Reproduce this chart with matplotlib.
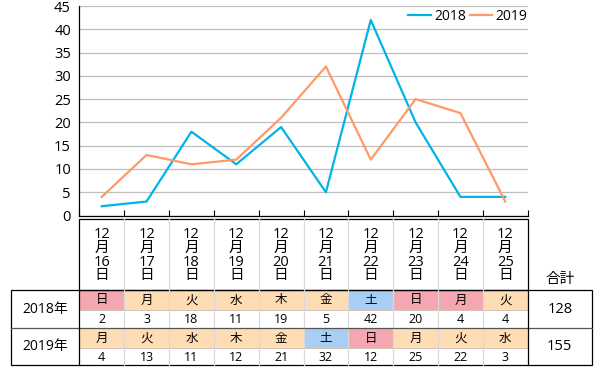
import numpy as np
import matplotlib.pyplot as plt
from matplotlib.patches import Rectangle

plt.rcParams['font.family'] = ['Open Sans', 'Noto Sans CJK JP', 'DejaVu Sans']

# data
days = ['16', '17', '18', '19', '20', '21', '22', '23', '24', '25']
values_2018 = [2, 3, 18, 11, 19, 5, 42, 20, 4, 4]
values_2019 = [4, 13, 11, 12, 21, 32, 12, 25, 22, 3]
weekdays_2018 = ['日', '月', '火', '水', '木', '金', '土', '日', '月', '火']
weekdays_2019 = ['月', '火', '水', '木', '金', '土', '日', '月', '火', '水']
holidays_2018 = [7, 8]   # 12/23 天皇誕生日, 12/24 振替休日
holidays_2019 = []
years = ['2018年', '2019年']

BLUE = '#00B4E6'
ORANGE = '#FF9966'
SUN = '#F4A7B1'
SAT = '#A9CEF4'
WEEK = '#FFDDB4'

fig = plt.figure(figsize=(6, 3.7), dpi=100)

# ---- line chart ----
W, H = 600, 370
ax_l, ax_r, ax_b, ax_t = 79.3, 527.7, 215.5, 6
ax = fig.add_axes([ax_l / W, 1 - ax_b / H, (ax_r - ax_l) / W, (ax_b - ax_t) / H])
x = np.arange(len(days))
ax.plot(x, values_2018, color=BLUE, lw=1.6, label='2018')
ax.plot(x, values_2019, color=ORANGE, lw=1.6, label='2019')
ax.set_xlim(-0.5, len(days) - 0.5)
ax.set_ylim(0, 45)
ax.set_yticks(range(0, 46, 5))
ax.yaxis.grid(True, color='#bfbfbf', lw=0.9)
ax.set_axisbelow(True)
ax.set_xticks(np.arange(len(days) + 1) - 0.5)
ax.set_xticklabels([])
ax.tick_params(axis='x', direction='in', length=4, width=0.8, color='black')
ax.tick_params(axis='y', length=0, pad=6, labelsize=10.5)
for s in ['top', 'right']:
    ax.spines[s].set_visible(False)
for s in ['left', 'bottom']:
    ax.spines[s].set_color('black')
    ax.spines[s].set_linewidth(0.9)
ax.legend(ncol=2, loc='center right', bbox_to_anchor=(1.0, 0.952), frameon=False,
          handlelength=1.6, handletextpad=0.25, columnspacing=0.3,
          borderaxespad=0, borderpad=0, fontsize=10)

# ---- table ----
tb = fig.add_axes([0, 0, 1, 1])
tb.set_xlim(0, W)
tb.set_ylim(H, 0)
tb.axis('off')

col_w = (ax_r - ax_l) / len(days)
lab_l, tot_r = 10.5, 592
hdr_t, hdr_b = 219.3, 290
rows_y = [290, 310, 328.3, 348.3, 365]


def day_color(wd, i, hol):
    if wd == '日' or i in hol:
        return SUN
    if wd == '土':
        return SAT
    return WEEK


for r, (wds, vals, hol) in enumerate([(weekdays_2018, values_2018, holidays_2018),
                                      (weekdays_2019, values_2019, holidays_2019)]):
    y0, y1, y2 = rows_y[2 * r], rows_y[2 * r + 1], rows_y[2 * r + 2]
    for i in range(len(days)):
        cx = ax_l + (i + 0.5) * col_w
        tb.add_patch(Rectangle((ax_l + i * col_w, y0), col_w, y1 - y0,
                               facecolor=day_color(wds[i], i, hol), edgecolor='none'))
        tb.text(cx, (y0 + y1) / 2, wds[i], ha='center', va='center', fontsize=9)
        tb.text(cx, (y1 + y2) / 2 + 0.5, str(vals[i]), ha='center', va='center', fontsize=9)
    tb.plot([ax_l, ax_r], [y1, y1], color='#c9b9a9', lw=0.6)
    tb.text((lab_l + ax_l) / 2, (y0 + y2) / 2, years[r], ha='center', va='center', fontsize=10)
    tb.text((ax_r + tot_r) / 2, (y0 + y2) / 2, str(sum(vals)), ha='center', va='center', fontsize=10.5)

# date header
for i, d in enumerate(days):
    cx = ax_l + (i + 0.5) * col_w
    tb.text(cx, (hdr_t + hdr_b) / 2 + 0.5, '12\n月\n' + d + '\n日', ha='center', va='center',
            fontsize=10.5, linespacing=0.9)
tb.text((ax_r + tot_r) / 2, 279, '合計', ha='center', va='center', fontsize=10.5)

# grid lines
for i in range(1, len(days)):
    xx = ax_l + i * col_w
    tb.plot([xx, xx], [hdr_t, rows_y[-1]], color='#d9d9d9', lw=0.9)
tb.plot([lab_l, tot_r], [rows_y[2], rows_y[2]], color='#555555', lw=0.9)
tb.add_patch(Rectangle((ax_l, hdr_t), ax_r - ax_l, hdr_b - hdr_t, fill=False, edgecolor='black', lw=0.9))
tb.add_patch(Rectangle((lab_l, rows_y[0]), tot_r - lab_l, rows_y[-1] - rows_y[0], fill=False,
                       edgecolor='black', lw=0.9))
tb.plot([ax_l, ax_l], [rows_y[0], rows_y[-1]], color='black', lw=0.9)
tb.plot([ax_r, ax_r], [rows_y[0], rows_y[-1]], color='black', lw=0.9)

fig.savefig('out.png', dpi=100)
